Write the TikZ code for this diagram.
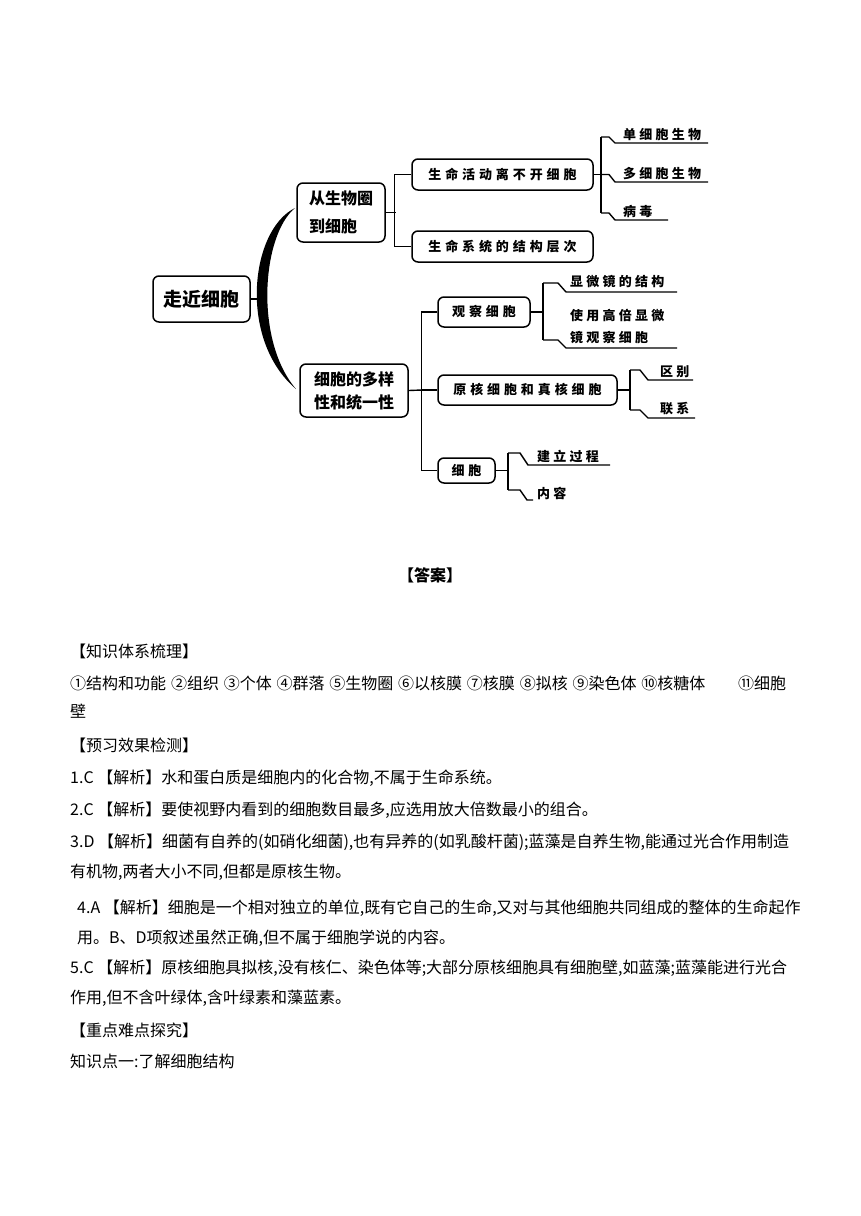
\documentclass[tikz,border=0pt]{standalone}
\usepackage{fontspec}
\setmainfont{Noto Sans CJK SC}
\newfontfamily\cjk{Noto Sans CJK SC}
\newfontfamily\dg[LetterSpace=30]{Noto Sans CJK SC}
\newfontfamily\lf[LetterSpace=25]{Noto Sans CJK SC}
\begin{document}
\begin{tikzpicture}[x=1pt,y=-1pt,
  box/.style={draw, line width=1.5pt, rounded corners=6pt, inner sep=0pt,
    font=\dg\bfseries\fontsize{13}{15}\selectfont},
  ln/.style={line width=1.4pt},
  leaf/.style={anchor=base west, inner sep=0pt, font=\lf\bfseries\fontsize{13}{22}\selectfont},
  body/.style={anchor=base west, inner sep=0pt, font=\cjk\fontsize{16}{18}\selectfont}]
\useasboundingbox (0,0) rectangle (860,1216);
\fill[white] (0,0) rectangle (860,1216);

% ---------- boxes ----------
\node[box, minimum width=97pt, minimum height=46pt,
  font=\cjk\bfseries\fontsize{19}{22}\selectfont] (root) at (201.5,299) {走近细胞};
\node[box, minimum width=88pt, minimum height=59pt, align=left,
  font=\cjk\bfseries\fontsize{16}{28}\selectfont] (A) at (341,212.5) {从生物圈\\到细胞};
\node[box, minimum width=181pt, minimum height=31pt] (A1) at (502.5,174.5) {生命活动离不开细胞};
\node[box, minimum width=181pt, minimum height=31pt] (A2) at (502.5,246.5) {生命系统的结构层次};
\node[box, minimum width=108pt, minimum height=53pt, align=left,
  font=\cjk\bfseries\fontsize{16}{23}\selectfont] (B) at (354,390.5) {细胞的多样\\性和统一性};
\node[box, minimum width=92pt, minimum height=30pt] (B1) at (484,312) {观察细胞};
\node[box, minimum width=179pt, minimum height=30pt] (B2) at (527.5,390) {原核细胞和真核细胞};
\node[box, minimum width=57pt, minimum height=25pt] (B3) at (466.5,470.5) {细胞};

% ---------- leaves ----------
\node[leaf] (L1) at (623,139) {单细胞生物};
\node[leaf] (L2) at (623,178) {多细胞生物};
\node[leaf] (L3) at (623,216) {病毒};
\node[leaf] (L4) at (570,286) {显微镜的结构};
\node[leaf, anchor=north west, align=left] (L5) at (570,309) {使用高倍显微\\镜观察细胞};
\node[leaf] (L6) at (660,376) {区别};
\node[leaf] (L7) at (660,413) {联系};
\node[leaf] (L8) at (537,461) {建立过程};
\node[leaf] (L9) at (537,498) {内容};

% ---------- root and arc ----------
\fill (295,208) .. controls (250,230) and (238,340) .. (296,389)
  .. controls (254,340) and (262,235) .. (295,208) -- cycle;
\draw[ln] (root.east) -- ++(8,0) coordinate (r1);

% ---------- bracket A ----------
\draw[ln] (A.east) -- ++(10,0) coordinate (ja);
\draw[ln] (A1.west) -- ++(-17,0) |- (A2.west);

% ---------- bracket A1 ----------
\draw[ln] (A1.east) -- ++(8,0) coordinate (j1);
\draw[ln] (601,137) -- (601,213);
\draw[ln] (601,137) -- (609,137) -- (615,143) -- (708,143);
\draw[ln] (j1) -- (609,174.5) -- (615,182) -- (708,182);
\draw[ln] (601,213) -- (609,213) -- (615,220) -- (668,220);

% ---------- bracket B ----------
\draw[ln] (B.east) -- (422,390) coordinate (jb);
\draw[ln] (B1.west) -- ++(-16,0) |- (B3.west);
\draw[ln] (jb) -- (B2.west);

% ---------- bracket B1 ----------
\draw[ln] (B1.east) -- ++(13,0) coordinate (k1);
\draw[ln] (543,283) -- (543,340);
\draw[ln] (543,283) -- (558,283) -- (566,292) -- (677,292);
\draw[ln] (543,340) -- (558,340) -- (566,348) -- (677,348);

% ---------- bracket B2 ----------
\draw[ln] (B2.east) -- ++(13,0) coordinate (k2);
\draw[ln] (630,370) -- (630,410);
\draw[ln] (630,370) -- (640,370) -- (648,380) -- (693,380);
\draw[ln] (630,410) -- (640,410) -- (648,418) -- (695,418);

% ---------- bracket B3 ----------
\draw[ln] (B3.east) -- ++(13,0) coordinate (k3);
\draw[ln] (508,453) -- (508,490);
\draw[ln] (508,453) -- (520,453) -- (528,465) -- (610,465);
\draw[ln] (508,490) -- (520,490) -- (527,500) -- (533,500);

% ---------- text ----------
\node[anchor=base, inner sep=0, font=\cjk\bfseries\fontsize{16}{18}\selectfont] (ans) at (430,581) {【答案】};
\node[body] (t1) at (70,657) {【知识体系梳理】};
\node[body] (t2) at (70,689) {①结构和功能\hspace{0.3em}②组织\hspace{0.3em}③个体\hspace{0.3em}④群落\hspace{0.3em}⑤生物圈\hspace{0.3em}⑥以核膜\hspace{0.3em}⑦核膜\hspace{0.3em}⑧拟核\hspace{0.3em}⑨染色体\hspace{0.3em}⑩核糖体};
\node[body] (t2b) at (738,689) {⑪细胞};
\node[body] (t3) at (70,717) {壁};
\node[body] (t4) at (70,751) {【预习效果检测】};
\node[body] (t5) at (70,783) {1.C 【解析】水和蛋白质是细胞内的化合物,不属于生命系统。};
\node[body] (t6) at (70,815) {2.C 【解析】要使视野内看到的细胞数目最多,应选用放大倍数最小的组合。};
\node[body] (t7) at (70,847) {3.D 【解析】细菌有自养的(如硝化细菌),也有异养的(如乳酸杆菌);蓝藻是自养生物,能通过光合作用制造};
\node[body] (t8) at (70,877) {有机物,两者大小不同,但都是原核生物。};
\node[body] (t9) at (77,913) {4.A 【解析】细胞是一个相对独立的单位,既有它自己的生命,又对与其他细胞共同组成的整体的生命起作};
\node[body] (t10) at (77,943) {用。B、D项叙述虽然正确,但不属于细胞学说的内容。};
\node[body] (t11) at (70,973) {5.C 【解析】原核细胞具拟核,没有核仁、染色体等;大部分原核细胞具有细胞壁,如蓝藻;蓝藻能进行光合};
\node[body] (t12) at (70,1003) {作用,但不含叶绿体,含叶绿素和藻蓝素。};
\node[body] (t13) at (70,1036) {【重点难点探究】};
\node[body] (t14) at (70,1067) {知识点一:了解细胞结构};
\end{tikzpicture}
\end{document}
